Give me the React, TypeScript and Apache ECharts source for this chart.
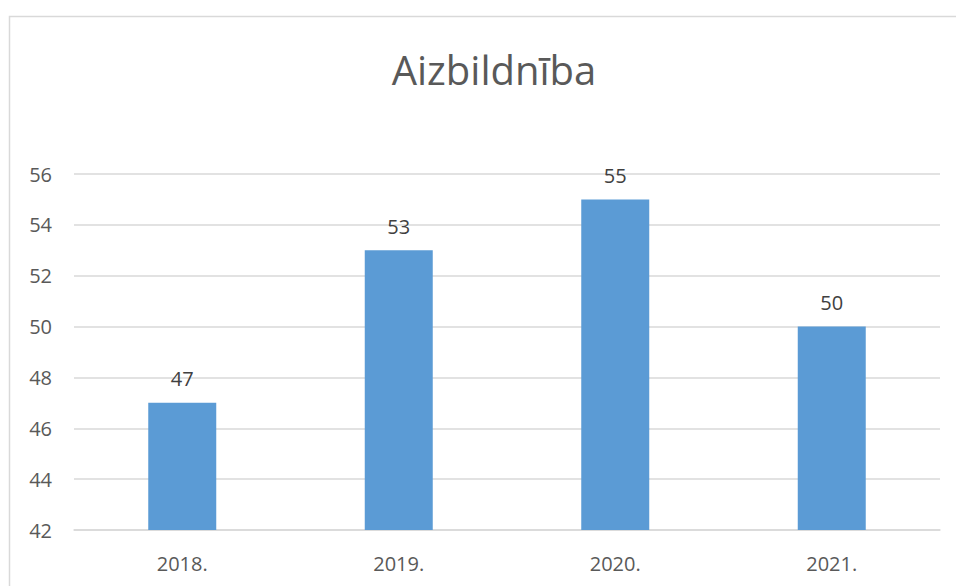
import React, { useEffect, useRef } from "react";
import * as echarts from "echarts";

const title = "Aizbildnība";
const categories = ["2018.", "2019.", "2020.", "2021."];
const values = [47, 53, 55, 50];
const yMin = 42;
const yMax = 56;
const yInterval = 2;

export default function App() {
  const ref = useRef<HTMLDivElement>(null);
  useEffect(() => {
    if (!ref.current) return;
    const chart = echarts.init(ref.current, undefined, { renderer: "svg" });
    const font = "'Open Sans', 'Noto Sans', sans-serif";
    chart.setOption({
      animation: false,
      backgroundColor: "#ffffff",
      title: {
        text: title,
        left: 489,
        textAlign: "center",
        top: 44,
        textStyle: { fontFamily: font, fontSize: 40, fontWeight: "normal", color: "#595959" },
      },
      graphic: [
        {
          type: "rect",
          shape: { x: 9.5, y: 16.5, width: 1000, height: 1000 },
          style: { fill: "none", stroke: "#d9d9d9", lineWidth: 1.5 },
          silent: true,
        },
      ],
      grid: { left: 74, right: 16, top: 174, bottom: 56, containLabel: false },
      xAxis: {
        type: "category",
        data: categories,
        axisLine: { show: true, lineStyle: { color: "#d9d9d9", width: 1.5 } },
        axisTick: { show: false },
        axisLabel: { fontFamily: font, fontSize: 20, color: "#595959", margin: 23 },
      },
      yAxis: {
        type: "value",
        min: yMin,
        max: yMax,
        interval: yInterval,
        axisLine: { show: false },
        axisTick: { show: false },
        splitLine: { lineStyle: { color: "#d9d9d9", width: 1.5 } },
        axisLabel: { fontFamily: font, fontSize: 20, color: "#595959", margin: 22 },
      },
      series: [
        {
          type: "bar",
          data: values,
          barWidth: 68,
          itemStyle: { color: "#5b9bd5" },
          label: {
            show: true,
            position: "top",
            distance: 14,
            fontFamily: font,
            fontSize: 20,
            color: "#404040",
          },
        },
      ],
    });
    return () => chart.dispose();
  }, []);
  return (
    <div
      ref={ref}
      style={{ position: "absolute", left: 0, top: 0, width: 956, height: 586 }}
    />
  );
}
